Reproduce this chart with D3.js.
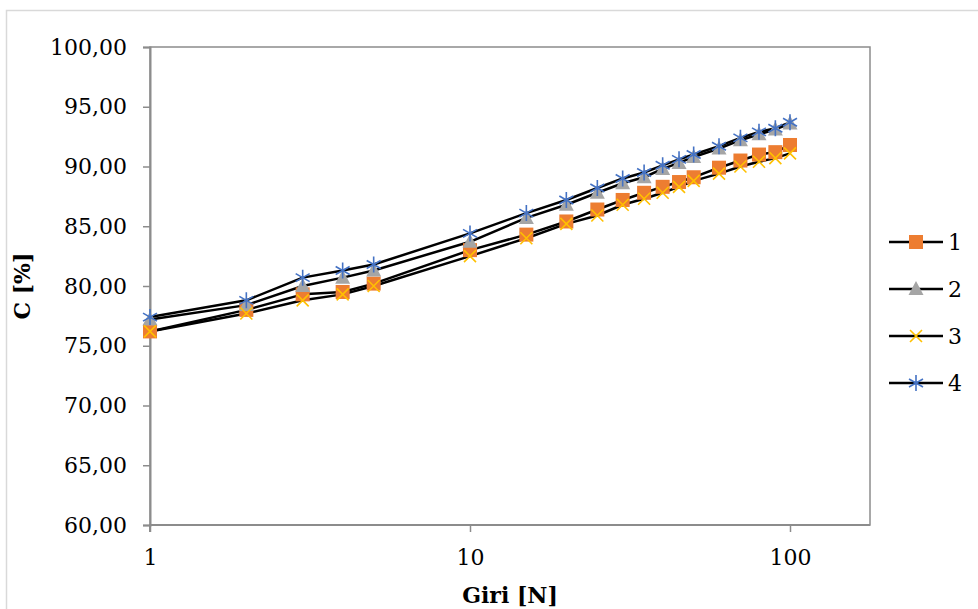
<!DOCTYPE html>
<html>
<head>
<meta charset="utf-8">
<script src="https://cdn.jsdelivr.net/npm/d3@7"></script>
<style>
  html, body { margin: 0; padding: 0; background: #fff; }
  text { font-family: "DejaVu Serif", "Liberation Serif", serif; fill: #000; }
</style>
</head>
<body>
<div id="app"></div>
<script>
// valori
const giri = [1, 2, 3, 4, 5, 10, 15, 20, 25, 30, 35, 40, 45, 50, 60, 70, 80, 90, 100];
const serie1 = [76.2, 78.0, 79.3, 79.5, 80.2, 83.0, 84.3, 85.4, 86.4, 87.2, 87.8, 88.3, 88.7, 89.1, 89.9, 90.5, 91.0, 91.2, 91.8];
const serie2 = [77.2, 78.4, 80.0, 80.7, 81.3, 83.7, 85.7, 86.8, 87.8, 88.6, 89.1, 89.8, 90.3, 90.8, 91.5, 92.2, 92.7, 93.1, 93.6];
const serie3 = [76.2, 77.7, 78.8, 79.3, 80.0, 82.5, 84.0, 85.2, 85.9, 86.8, 87.3, 87.8, 88.3, 88.8, 89.4, 90.0, 90.4, 90.7, 91.1];
const serie4 = [77.4, 78.8, 80.7, 81.3, 81.8, 84.4, 86.1, 87.2, 88.2, 89.0, 89.5, 90.1, 90.6, 91.0, 91.7, 92.4, 92.9, 93.2, 93.7];
const nomiSerie = ['1', '2', '3', '4'];
const yTicks = [60, 65, 70, 75, 80, 85, 90, 95, 100];
const xTicks = [1, 10, 100];

const width = 978;
const height = 609;
const margin = { left: 150, right: 108, top: 47, bottom: 84 };
const innerWidth = width - margin.left - margin.right;
const innerHeight = height - margin.top - margin.bottom;

const colori = ['#ED7D31', '#A5A5A5', '#FFC000', '#4472C4'];
const simboli = ['square', 'triangle', 'x', 'star'];
const assiColore = '#8c8c8c';

const svg = d3.select('#app')
              .append('svg')
              .attr('width', width)
              .attr('height', height)
              .style('display', 'block');

// bordo esterno del grafico (prosegue oltre i bordi destro e inferiore)
svg.append('path')
   .attr('d', `M${width},10.5H6.5V${height}`)
   .attr('fill', 'none')
   .attr('stroke', '#d9d9d9')
   .attr('stroke-width', 1.5);

const g = svg.append('g')
             .attr('transform', `translate(${margin.left}, ${margin.top})`);

const xScale = d3.scaleLog()
                 .domain([1, Math.pow(10, 2.25)])
                 .range([0, innerWidth]);

const yScale = d3.scaleLinear()
                 .domain([60, 100])
                 .range([innerHeight, 0]);

const itLocale = d3.formatLocale({ decimal: ',', thousands: '.', grouping: [3], currency: ['', '€'] });
const fmt = itLocale.format('.2f');

// bordo area del tracciato
g.append('rect')
 .attr('width', innerWidth)
 .attr('height', innerHeight)
 .attr('fill', 'none')
 .attr('stroke', assiColore)
 .attr('stroke-width', 1.5);

const yAxis = g.append('g')
               .call(d3.axisLeft(yScale).tickValues(yTicks).tickFormat(fmt).tickSize(7).tickPadding(16))
               .attr('font-size', 22)
               .attr('font-family', '"DejaVu Serif", serif');
yAxis.select('.domain').attr('stroke', assiColore).attr('stroke-width', 2);
yAxis.selectAll('line').attr('stroke', assiColore).attr('stroke-width', 1.5);

const xAxis = g.append('g')
               .attr('transform', `translate(0, ${innerHeight})`)
               .call(d3.axisBottom(xScale).tickValues(xTicks).tickFormat(d3.format('d')).tickSize(7).tickPadding(17))
               .attr('font-size', 22)
               .attr('font-family', '"DejaVu Serif", serif');
xAxis.select('.domain').attr('stroke', assiColore).attr('stroke-width', 2).attr('d', `M0,7V0H${innerWidth}`);
xAxis.selectAll('line').attr('stroke', assiColore).attr('stroke-width', 1.5);

// titoli degli assi
svg.append('text')
   .attr('transform', 'translate(30, 286) rotate(-90)')
   .attr('text-anchor', 'middle')
   .attr('font-size', '22px')
   .attr('font-weight', 'bold')
   .text('C [%]');

svg.append('text')
   .attr('x', 510)
   .attr('y', 603)
   .attr('text-anchor', 'middle')
   .attr('font-size', '22px')
   .attr('font-weight', 'bold')
   .text('Giri [N]');

const dati = [serie1, serie2, serie3, serie4].map((valori, i) => ({
  nome: nomiSerie[i],
  colore: colori[i],
  simbolo: simboli[i],
  punti: giri.map((n, j) => ({ n: n, v: valori[j] }))
}));

const linea = d3.line()
                .x(d => xScale(d.n))
                .y(d => yScale(d.v));

// disegna un marcatore centrato in (0,0)
function marcatore(sel, simbolo, colore) {
  if (simbolo === 'square') {
    sel.append('rect').attr('x', -7).attr('y', -7).attr('width', 14).attr('height', 14).attr('fill', colore);
  } else if (simbolo === 'triangle') {
    sel.append('path').attr('d', 'M0,-8L7.5,6L-7.5,6Z').attr('fill', colore);
  } else if (simbolo === 'x') {
    sel.append('path').attr('d', 'M-6,-6L6,6M-6,6L6,-6').attr('stroke', colore).attr('stroke-width', 1.6).attr('fill', 'none');
  } else {
    sel.append('path')
       .attr('d', 'M0,-8V8M-7,-4L7,4M-7,4L7,-4')
       .attr('stroke', colore).attr('stroke-width', 1.6).attr('fill', 'none');
  }
}

// linee prima, poi marcatori
g.selectAll('.serie-linea')
 .data(dati)
 .enter()
 .append('path')
 .attr('class', 'serie-linea')
 .attr('d', d => linea(d.punti))
 .attr('fill', 'none')
 .attr('stroke', '#000')
 .attr('stroke-width', 2.5)
 .attr('stroke-linejoin', 'round');

dati.forEach(s => {
  g.selectAll(null)
   .data(s.punti)
   .enter()
   .append('g')
   .attr('transform', d => `translate(${xScale(d.n)}, ${yScale(d.v)})`)
   .each(function() { marcatore(d3.select(this), s.simbolo, s.colore); });
});

// legenda
const legenda = svg.append('g').attr('transform', 'translate(889, 242)');
dati.forEach((s, i) => {
  const riga = legenda.append('g').attr('transform', `translate(0, ${i * 47})`);
  riga.append('line').attr('x1', 0).attr('x2', 54).attr('stroke', '#000').attr('stroke-width', 2.5);
  marcatore(riga.append('g').attr('transform', 'translate(27, 0)'), s.simbolo, s.colore);
  riga.append('text')
      .attr('x', 59)
      .attr('dy', '0.36em')
      .attr('font-size', '22px')
      .text(s.nome);
});
</script>
</body>
</html>
